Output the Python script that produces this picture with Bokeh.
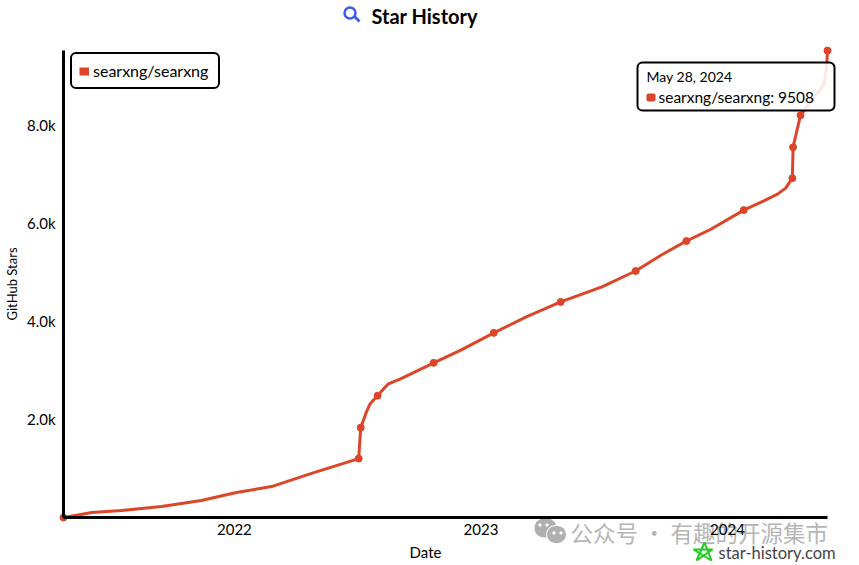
from datetime import date
from bokeh.embed import file_html
from bokeh.resources import INLINE
from bokeh.plotting import figure
from bokeh.models import (Label, BoxAnnotation, PolyAnnotation, Legend, LegendItem,
                          Range1d, FixedTicker)

title = "Star History"
series_name = "searxng/searxng"
tooltip_date = "May 28, 2024"
tooltip_value = 9508
site = "star-history.com"
watermark = "公众号 · 有趣的开源集市"
x_title = "Date"
y_title = "GitHub Stars"

line_dates = ["2021-04-23","2021-06-04","2021-07-18","2021-09-15","2021-11-13","2022-01-04",
              "2022-02-25","2022-04-24","2022-07-04","2022-07-07","2022-07-15","2022-07-21","2022-08-01",
              "2022-08-10","2022-08-17","2022-09-04","2022-10-23","2022-12-03","2023-01-20","2023-03-09","2023-04-29",
              "2023-06-29","2023-08-18","2023-09-25","2023-11-01","2023-12-08","2024-01-25",
              "2024-02-23","2024-03-15","2024-03-27","2024-04-06","2024-04-07","2024-04-18",
              "2024-05-23","2024-05-27","2024-05-28"]
line_stars = [0,100,142,224,345,508,630,894,1200,1830,2134,2317,2480,2622,2723,2825,3150,3415,3760,4085,4390,
              4695,5020,5345,5630,5875,6260,6443,6585,6708,6910,7540,8190,8821,9228,9508]
marker_dates = ["2021-04-23","2022-07-04","2022-07-07","2022-08-01","2022-10-23","2023-01-20",
                "2023-04-29","2023-08-18","2023-11-01","2024-01-25","2024-04-06","2024-04-07",
                "2024-04-18","2024-05-28"]
marker_stars = [0,1200,1830,2480,3150,3760,4390,5020,5630,6260,6910,7540,8190,9508]
y_ticks = [2000,4000,6000,8000]
y_labels = ["2.0k","4.0k","6.0k","8.0k"]
x_tick_dates = ["2022-01-01","2023-01-01","2024-01-01"]
x_labels = ["2022","2023","2024"]

RED = "#dd4528"
FONT = "Lato"
W, H = 850, 562
AX_L, AX_R, AX_T, AX_B = 63, 827, 50, 517
Y_MAX = 9510

def ms(s):
    return (date.fromisoformat(s) - date(1970,1,1)).days * 86400000.0

x0, x1 = ms(line_dates[0]), ms(line_dates[-1])
per_x = (x1 - x0) / (AX_R - AX_L)
per_y = Y_MAX / (AX_B - AX_T)

# The frame fills the whole canvas so annotations are not clipped; the axes are
# pinned with fixed_location and bounded to the data extent.
p = figure(width=W, height=H, x_axis_type="datetime", output_backend="svg",
           toolbar_location=None, min_border=0, min_border_left=0, min_border_right=0,
           min_border_top=0, min_border_bottom=0,
           x_range=Range1d(x0 - AX_L * per_x, x1 + (W - AX_R) * per_x),
           y_range=Range1d(-(H - AX_B) * per_y, Y_MAX + AX_T * per_y),
           background_fill_color="white", outline_line_color=None)

p.grid.visible = False
for ax in (p.xaxis[0], p.yaxis[0]):
    ax.axis_line_width = 3
    ax.axis_line_color = "black"
    ax.major_tick_line_color = None
    ax.minor_tick_line_color = None
    ax.major_tick_out = 0
    ax.major_tick_in = 0
    ax.minor_tick_out = 0
    ax.minor_tick_in = 0
    ax.major_label_text_font = FONT
    ax.major_label_text_font_size = "15px"
    ax.major_label_text_color = "black"
    ax.axis_label_text_font = FONT
    ax.axis_label_text_font_size = "13px"
    ax.axis_label_text_font_style = "normal"
    ax.axis_label_text_color = "black"

p.xaxis.ticker = FixedTicker(ticks=[ms(d) for d in x_tick_dates])
p.xaxis.major_label_overrides = {ms(d): l for d, l in zip(x_tick_dates, x_labels)}
p.xaxis.major_label_standoff = 6
p.xaxis.fixed_location = 0
p.xaxis.bounds = (x0, x1)
p.yaxis.ticker = FixedTicker(ticks=y_ticks)
p.yaxis.major_label_overrides = dict(zip(y_ticks, y_labels))
p.yaxis.axis_label = y_title
p.yaxis.axis_label_standoff = 4
p.yaxis.major_label_standoff = 8
p.yaxis.fixed_location = x0
p.yaxis.bounds = (0, Y_MAX)

xs = [ms(d) for d in line_dates]
p.line(xs, line_stars, line_color=RED, line_width=3, line_join="round")
p.scatter([ms(d) for d in marker_dates], marker_stars, marker="circle", size=7,
          fill_color=RED, line_color=RED)

# Zero-length thick line: it paints nothing in the plot and gives the legend its square swatch.
swatch = p.line([x0, x0], [0, 0], line_color=RED, line_width=8, line_cap="butt")
legend = Legend(items=[LegendItem(label=series_name, renderers=[swatch])],
                location=(70, H - 89), border_line_color="black", border_line_width=2,
                border_line_alpha=1, border_radius=6, background_fill_alpha=1,
                label_text_font=FONT, label_text_font_size="16px", label_text_color="black",
                glyph_width=10, glyph_height=10, padding=7, margin=0, label_standoff=4,
                label_width=118)
p.add_layout(legend, "center")

def box(l, t, r, b, **kw):
    kw.setdefault("line_alpha", 1)
    kw.setdefault("fill_alpha", 1)
    return BoxAnnotation(left=l, right=r, top=t, bottom=b,
                         left_units="canvas", right_units="canvas",
                         top_units="canvas", bottom_units="canvas", **kw)

def poly(xs, ys, **kw):
    kw.setdefault("line_alpha", 1)
    kw.setdefault("fill_alpha", 1)
    return PolyAnnotation(xs=xs, ys=ys, xs_units="canvas", ys_units="canvas", **kw)

def text(x, y, s, **kw):
    kw.setdefault("text_font", FONT)
    kw.setdefault("text_baseline", "middle")
    return Label(x=x, y=H - y, x_units="screen", y_units="screen", text=s, **kw)

# title
p.add_layout(text(371, 15, title, text_font_size="20px", text_font_style="bold", text_color="black"))
p.add_layout(poly([352, 354, 360, 358], [16, 14, 20, 22], fill_color="#3b5bf5", line_color=None))
p.add_layout(box(344, 7, 355, 18, fill_color="white", line_color="#3b5bf5", line_width=2.5, border_radius=6))

# axis title of the x axis, centred on the chart as in the reference
p.add_layout(text(425, 551, x_title, text_font_size="15px", text_align="center", text_color="black"))

# tooltip
p.add_layout(box(637, 62, 834, 110, fill_color="white", fill_alpha=0.88, line_color="black",
                 line_width=2, border_radius=5, level="overlay"))
p.add_layout(box(646, 93, 655, 101, fill_color=RED, line_color=None, border_radius=2, level="overlay"))
p.add_layout(text(646, 76, tooltip_date, text_font_size="14px", text_color="black", level="overlay"))
p.add_layout(text(658, 96, f"{series_name}: {tooltip_value}", text_font_size="15.5px",
                  text_color="black", level="overlay"))

# watermark
p.add_layout(box(534, 518, 556, 537, fill_color="#b0b0b0", line_color=None,
                 border_radius=9, level="underlay"))
p.add_layout(box(546, 525, 566, 543, fill_color="#b0b0b0", line_color="white",
                 border_radius=9, level="underlay"))
for l, t in [(538, 523), (545, 523), (552, 531), (559, 531)]:
    p.add_layout(box(l, t, l + 3, t + 3, fill_color="white", line_color=None,
                     border_radius=1, level="underlay"))
p.add_layout(text(570, 531, watermark, text_font="Noto Sans CJK SC", text_font_size="22.5px",
                  text_color="#b5b5b5", level="underlay"))

# site mark
p.add_layout(poly([704, 711, 693, 712, 696], [542, 560, 549, 549, 560], fill_alpha=0,
                  fill_color="white", line_color="#22cc22", line_width=2))
p.add_layout(text(718, 552, site, text_font_size="16.5px", text_color="#444444"))

open("out.html", "w").write(file_html(p, INLINE))
